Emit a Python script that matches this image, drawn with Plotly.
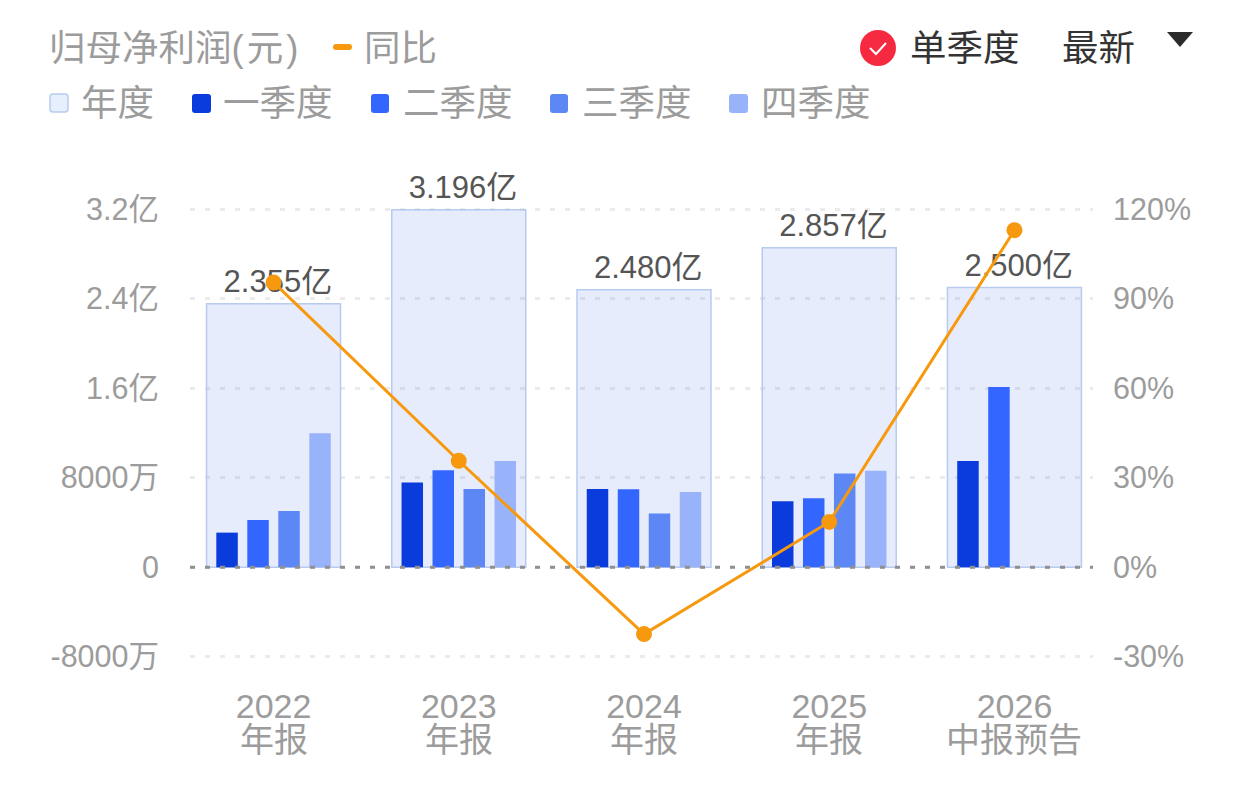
import plotly.graph_objects as go

# Reporting periods
years = ["2022", "2023", "2024", "2025", "2026"]
period_labels = ["年报", "年报", "年报", "年报", "中报预告"]

# Net profit attributable to the parent, in yuan
annual = [2.355e8, 3.196e8, 2.480e8, 2.857e8, 2.500e8]
q1 = [3100e4, 7570e4, 7000e4, 5900e4, 9500e4]
q2 = [4230e4, 8670e4, 6970e4, 6170e4, 16120e4]
q3 = [5030e4, 7000e4, 4800e4, 8380e4, None]
q4 = [11980e4, 9500e4, 6730e4, 8640e4, None]

# Year-on-year growth, percent
yoy = [95.5, 35.7, -22.4, 15.2, 113.0]

left_ticks = [-0.8e8, 0, 0.8e8, 1.6e8, 2.4e8, 3.2e8]
left_labels = ["-8000万", "0", "8000万", "1.6亿", "2.4亿", "3.2亿"]
right_ticks = [-30, 0, 30, 60, 90, 120]
right_labels = ["-30%", "0%", "30%", "60%", "90%", "120%"]

FONT = "Liberation Sans, Noto Sans CJK SC, sans-serif"
W, H = 1242, 797
L, R, T, B = 190, 1093, 205, 661
GREY = "#9c9c9c"
ORANGE = "#F7990F"
Q_COLORS = ["#0A3BDC", "#3366FF", "#5C87F5", "#99B3FB"]
Q_NAMES = ["一季度", "二季度", "三季度", "四季度"]
Q_OFFSETS = [-0.309, -0.1417, 0.0256, 0.193]


def px(x):
    return (x - L) / (R - L)


def py(y):
    return (B - y) / (B - T)


fig = go.Figure()

fig.add_trace(go.Bar(
    x=years, y=annual, name="年度", width=0.7233, offset=-0.3617,
    marker=dict(color="rgba(66,105,230,0.125)", line=dict(color="#B7CAEF", width=1.5)),
))

for name, values, color, offset in zip(Q_NAMES, [q1, q2, q3, q4], Q_COLORS, Q_OFFSETS):
    fig.add_trace(go.Bar(x=years, y=values, name=name, width=0.116, offset=offset,
                         marker=dict(color=color, line=dict(width=0))))

# Value labels above the full-year bars; the hidden marker sets their gap to the bar top
# and the leading no-break space nudges them right
fig.add_trace(go.Scatter(
    x=years, y=annual, mode="markers+text", name="年度数值",
    marker=dict(size=5, opacity=0),
    text=[f"\u00a0{v / 1e8:.3f}亿" for v in annual], textposition="top center",
    textfont=dict(family=FONT, size=31, color="#555555"), cliponaxis=False,
))

fig.add_trace(go.Scatter(
    x=years, y=yoy, name="同比", yaxis="y2", mode="lines+markers",
    line=dict(color=ORANGE, width=3), marker=dict(color=ORANGE, size=16),
    cliponaxis=False,
))


def label(x, y, text, size=36.5, color=GREY, xanchor="left"):
    return dict(xref="paper", yref="paper", x=px(x), y=py(y), text=text, showarrow=False,
                xanchor=xanchor, yanchor="middle", font=dict(family=FONT, size=size, color=color))


def swatch(x0, y0, x1, y1, fill, edge=None, r=3):
    path = (f"M{px(x0 + r)},{py(y0)} L{px(x1 - r)},{py(y0)} "
            f"Q{px(x1)},{py(y0)} {px(x1)},{py(y0 + r)} L{px(x1)},{py(y1 - r)} "
            f"Q{px(x1)},{py(y1)} {px(x1 - r)},{py(y1)} L{px(x0 + r)},{py(y1)} "
            f"Q{px(x0)},{py(y1)} {px(x0)},{py(y1 - r)} L{px(x0)},{py(y0 + r)} "
            f"Q{px(x0)},{py(y0)} {px(x0 + r)},{py(y0)} Z")
    return dict(type="path", xref="paper", yref="paper", path=path, fillcolor=fill,
                line=dict(color=edge or fill, width=1.5 if edge else 0), layer="above")


annotations = [
    label(47, 48, "归母净利润(\u200a元\u200a)"),
    label(362, 48, "同比"),
    label(79, 103, "年度"),
    label(221, 103, "一季度"),
    label(401, 103, "二季度"),
    label(580, 103, "三季度"),
    label(759, 103, "四季度"),
    label(908, 48, "单季度", color="#333333"),
    label(1060, 48, "最新", color="#333333"),
]

# Second row of the category labels sits tighter than a line break would allow
for i, text in enumerate(period_labels):
    annotations.append(dict(xref="x", yref="paper", x=i, y=py(740), text=text, showarrow=False,
                            xanchor="center", yanchor="middle",
                            font=dict(family=FONT, size=34, color=GREY)))

shapes = [
    # Dashed zero baseline
    dict(type="line", xref="paper", yref="y", x0=0, x1=1, y0=0, y1=0, layer="above",
         line=dict(color="#8f8f8f", width=3, dash="5px,10px")),
    # Legend swatches
    swatch(50, 94, 68, 112, "#E6EFFC", "#B7CAEF"),
    swatch(192, 94, 211, 113, Q_COLORS[0]),
    swatch(371, 94, 389, 113, Q_COLORS[1]),
    swatch(550, 94, 568, 113, Q_COLORS[2]),
    swatch(729, 94, 748, 113, Q_COLORS[3]),
    swatch(333, 44, 352, 50, ORANGE, r=3),
    # Selected indicator and dropdown arrow
    dict(type="circle", xref="paper", yref="paper", x0=px(860), x1=px(896), y0=py(66), y1=py(30),
         fillcolor="#F5293F", line=dict(width=0), layer="above"),
    dict(type="path", xref="paper", yref="paper",
         path=f"M{px(870)},{py(48)} L{px(876)},{py(54)} L{px(886)},{py(43)}",
         line=dict(color="white", width=2), layer="above"),
    dict(type="path", xref="paper", yref="paper",
         path=f"M{px(1167)},{py(32)} L{px(1193)},{py(32)} L{px(1180)},{py(47)} Z",
         fillcolor="#2b2b2b", line=dict(width=0), layer="above"),
]

fig.update_layout(
    width=W, height=H, autosize=False, showlegend=False, barmode="overlay",
    paper_bgcolor="white", plot_bgcolor="white",
    margin=dict(l=L, r=W - R, t=T, b=H - B, pad=0),
    font=dict(family=FONT, color=GREY),
    annotations=annotations, shapes=shapes,
    xaxis=dict(type="category", categoryorder="array", categoryarray=years,
               range=[-0.451, 4.424], showgrid=False, zeroline=False, showline=False,
               tickmode="array", tickvals=years, ticktext=years,
               tickfont=dict(family=FONT, size=34, color=GREY), ticklabelstandoff=22),
    # Both ranges run a little past the outer ticks so the end gridlines are kept
    yaxis=dict(range=[-0.8375e8, 3.2385e8], tickmode="array", tickvals=left_ticks, ticktext=left_labels,
               tickfont=dict(family=FONT, size=30.5, color=GREY), ticklabelstandoff=30,
               showgrid=True, gridcolor="#ebebeb", gridwidth=2.5, griddash="5px,10px",
               zeroline=False, showline=False),
    yaxis2=dict(range=[-31.41, 121.44], overlaying="y", side="right", tickmode="array",
                tickvals=right_ticks, ticktext=right_labels,
                tickfont=dict(family=FONT, size=30.5, color=GREY), ticklabelstandoff=19,
                showgrid=False, zeroline=False, showline=False),
)

fig.write_html("out.html", config={"displayModeBar": False})
